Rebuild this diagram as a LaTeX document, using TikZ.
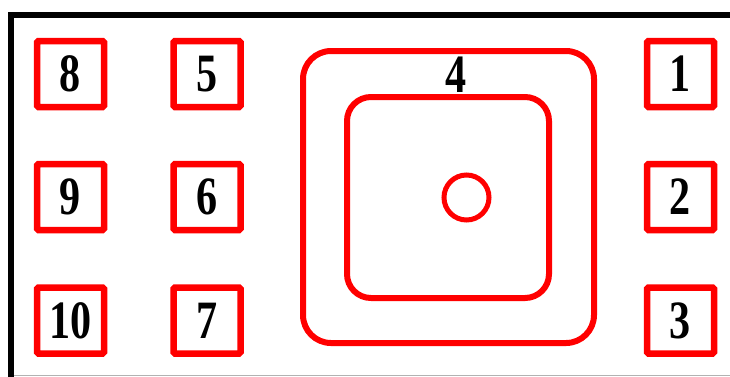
\documentclass[tikz,border=0pt]{standalone}
\usepackage{fontspec}
\setmainfont{Liberation Serif}
\usetikzlibrary{positioning, calc}
\definecolor{padRed}{HTML}{FF0000}
\newcommand{\padnum}[1]{\scalebox{0.78}[1]{\textbf{\fontsize{54}{54}\selectfont #1}}}

\begin{document}
\begin{tikzpicture}[x=1pt, y=-1pt,
  pad/.style={draw=padRed, line width=6.5pt, rounded corners=1.5pt, minimum width=67pt, minimum height=66pt, inner sep=0pt},
  ring/.style={draw=padRed, line width=6pt, rounded corners=28pt, inner sep=0pt}
]
\useasboundingbox (0,0) rectangle (730,376);

% frame
\draw[line width=6pt] (11,378) |- (732,15);
\draw[gray!60, line width=1pt] (14,375.5) -- (730,375.5);

% left columns
\node[pad] (p8) at (70.5,74) {\padnum{8}};
\node[pad] (p9) at (70.5,197) {\padnum{9}};
\node[pad] (p10) at (70.5,320.5) {\padnum{10}};
\node[pad] (p5) at (207,74) {\padnum{5}};
\node[pad] (p6) at (207,197) {\padnum{6}};
\node[pad] (p7) at (207,320.5) {\padnum{7}};

% right column
\node[pad] (p1) at (680.5,74) {\padnum{1}};
\node[pad] (p2) at (680.5,197) {\padnum{2}};
\node[pad] (p3) at (680.5,320.5) {\padnum{3}};

% centre part
\node[ring, minimum width=291pt, minimum height=292pt] (outer) at (448.5,197) {};
\node[ring, rounded corners=24pt, minimum width=202pt, minimum height=201pt] (inner) at (448,197.5) {};
\node[draw=padRed, line width=5pt, circle, minimum size=45pt, inner sep=0pt] (hole) at (466.5,197.5) {};
\node[anchor=south, inner sep=0pt] (lbl4) at ($(inner.north)+(8,-1)$) {\padnum{4}};
\end{tikzpicture}
\end{document}
